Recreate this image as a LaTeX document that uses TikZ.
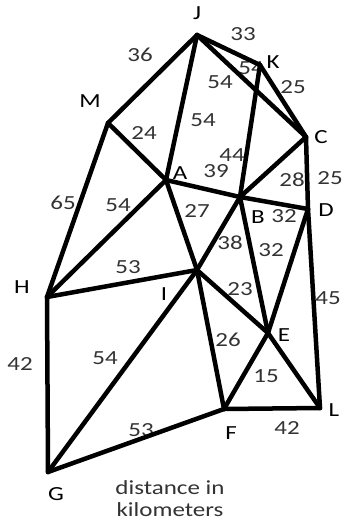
\documentclass[tikz,border=0pt]{standalone}
\usepackage{fontspec}
\setmainfont{Carlito}[FakeStretch=1.25]

\tikzset{
  road/.style={line width=4.5pt, line cap=round, line join=round},
  town/.style={font=\fontsize{20}{22}\selectfont, inner sep=0pt},
  dist/.style={font=\fontsize{20}{22}\selectfont, inner sep=0pt, text=black!80}
}

\begin{document}
\begin{tikzpicture}[x=1pt,y=-1pt]
\useasboundingbox[fill=white] (0,0) rectangle (345,525);

\coordinate (J) at (197,35);
\coordinate (K) at (260,65);
\coordinate (C) at (306,137);
\coordinate (M) at (108,123);
\coordinate (A) at (166,180);
\coordinate (B) at (240,197);
\coordinate (D) at (308,209);
\coordinate (H) at (47,297);
\coordinate (I) at (197,270);
\coordinate (E) at (268,333);
\coordinate (F) at (224,409);
\coordinate (L) at (320,408);
\coordinate (G) at (48,472);

\node[town] (lJ) at (197,13) {J};
\node[town] (lK) at (273,62) {K};
\node[town] (lC) at (321,137) {C};
\node[town] (lM) at (90,101) {M};
\node[town] (lA) at (180,173) {A};
\node[town] (lB) at (258,217) {B};
\node[town] (lD) at (326,210) {D};
\node[town] (lH) at (22,287) {H};
\node[town] (lI) at (164,294) {I};
\node[town] (lE) at (284,335) {E};
\node[town] (lF) at (231,433) {F};
\node[town] (lL) at (334,410) {L};
\node[town] (lG) at (56,494) {G};

\node[dist] (dJK2) at (251,68) {54};
\node[dist] (dJM) at (140,55) {36};
\node[dist] (dJK) at (243,34) {33};
\node[dist] (dJC) at (220,82) {54};
\node[dist] (dJA) at (203,120) {54};
\node[dist] (dKC) at (293,87) {25};
\node[dist] (dKB) at (232,155) {44};
\node[dist] (dMA) at (144,133) {24};
\node[dist] (dMH) at (63,203) {65};
\node[dist] (dAH) at (118,205) {54};
\node[dist] (dAB) at (216,171) {39};
\node[dist] (dAI) at (197,211) {27};
\node[dist] (dCB) at (292,180) {28};
\node[dist] (dCD) at (330,178) {25};
\node[dist] (dBD) at (284,216) {32};
\node[dist] (dBI) at (230,243) {38};
\node[dist] (dBE) at (271,250) {32};
\node[dist] (dDL) at (328,298) {45};
\node[dist] (dHI) at (128,267) {53};
\node[dist] (dHG) at (20,364) {42};
\node[dist] (dIE) at (240,289) {23};
\node[dist] (dIF) at (228,340) {26};
\node[dist] (dIG) at (105,358) {54};
\node[dist] (dEF) at (266,376) {15};
\node[dist] (dFL) at (287,428) {42};
\node[dist] (dGF) at (141,430) {53};

\draw[road] (J) -- (M);
\draw[road] (J) -- (A);
\draw[road] (J) -- (K);
\draw[road] (J) -- (C);
\draw[road] (K) -- (C);
\draw[road] (K) -- (B);
\draw[road] (M) -- (A);
\draw[road] (M) -- (H);
\draw[road] (A) -- (B);
\draw[road] (A) -- (H);
\draw[road] (A) -- (I);
\draw[road] (C) -- (B);
\draw[road] (C) -- (D);
\draw[road] (B) -- (D);
\draw[road] (B) -- (I);
\draw[road] (B) -- (E);
\draw[road] (D) -- (E);
\draw[road] (D) -- (L);
\draw[road] (H) -- (I);
\draw[road] (H) -- (G);
\draw[road] (I) -- (E);
\draw[road] (I) -- (F);
\draw[road] (I) -- (G);
\draw[road] (E) -- (F);
\draw[road] (E) -- (L);
\draw[road] (F) -- (L);
\draw[road] (G) -- (F);

\node[dist, align=center] (note) at (170,499) {distance in\\kilometers};
\end{tikzpicture}
\end{document}
